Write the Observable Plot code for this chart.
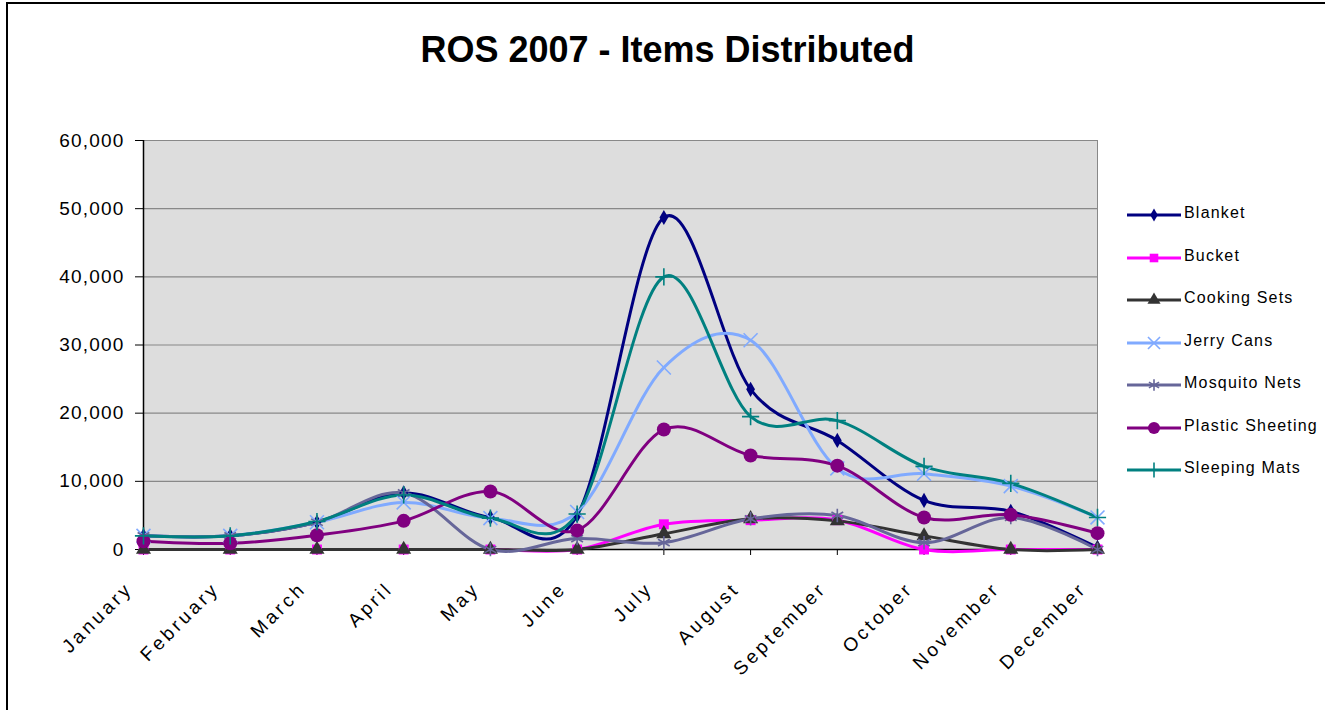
<!DOCTYPE html>
<html><head><meta charset="utf-8">
<script src="https://cdn.jsdelivr.net/npm/d3@7"></script>
<script src="https://cdn.jsdelivr.net/npm/@observablehq/plot@0.6"></script>
<style>
html,body{margin:0;padding:0;background:#fff;width:1325px;height:710px;overflow:hidden;}
#frame{position:absolute;left:6px;top:2px;width:1330px;height:720px;border-left:2px solid #000;border-top:2px solid #000;}
#title{position:absolute;left:0;width:1335px;top:29px;text-align:center;font:bold 36px "Liberation Sans",Arial,sans-serif;color:#000;}
#chart{position:absolute;left:0;top:0;}
#chart svg g[aria-label="y-axis tick label"] text{letter-spacing:1.2px;}
#chart svg g[aria-label="x-axis tick label"] text{letter-spacing:3.3px;}
#legend{position:absolute;left:1126px;top:199px;font:16px "Liberation Sans",Arial,sans-serif;letter-spacing:1.2px;color:#000;}
.li{height:42.5px;display:flex;align-items:flex-start;}
.li svg{margin-top:4px;}
.li span{margin-left:2px;line-height:30px;margin-top:-1px;}
</style></head>
<body>
<div id="frame"></div>
<div id="title">ROS 2007 - Items Distributed</div>
<div id="chart"></div>
<div id="legend"></div>
<script>
const months = ["January","February","March","April","May","June","July","August","September","October","November","December"];
const yTicks = [0,10000,20000,30000,40000,50000,60000];
const seriesNames = ["Blanket","Bucket","Cooking Sets","Jerry Cans","Mosquito Nets","Plastic Sheeting","Sleeping Mats"];
const blanket  = [2000,2000,4000,8300,4700,5000,48700,23500,16000,7200,5600,300];
const bucket   = [0,0,0,0,0,0,3700,4300,4300,0,0,0];
const cooking  = [0,0,0,0,0,0,2300,4500,4200,2000,0,0];
const jerry    = [2000,2000,4000,6900,4600,5500,26700,30700,11900,11100,9300,4700];
const mosquito = [2000,2000,4000,8300,0,1600,1000,4500,5000,1000,4700,0];
const plastic  = [1200,900,2100,4200,8500,2800,17600,13800,12300,4700,5100,2400];
const sleeping = [2000,2000,4100,8000,4600,5200,40000,19500,18900,12200,9700,4700];
const seriesValues = [blanket,bucket,cooking,jerry,mosquito,plastic,sleeping];

const styles = {
  "Blanket":         {color:"#000080", symbol:"diamond", r:4.6, filled:true},
  "Bucket":          {color:"#FF00FF", symbol:"square",  r:5.6, filled:true},
  "Cooking Sets":    {color:"#333333", symbol:"triangle",r:5.6, filled:true},
  "Jerry Cans":      {color:"#80AAFF", symbol:"times",   r:6.4, filled:false},
  "Mosquito Nets":   {color:"#666699", symbol:"asterisk",r:6.4, filled:false},
  "Plastic Sheeting":{color:"#800080", symbol:"circle",  r:7,   filled:true},
  "Sleeping Mats":   {color:"#008080", symbol:"plus",    r:5.6, filled:false}
};

const data = [];
seriesNames.forEach((s,i)=>months.forEach((m,j)=>data.push({series:s, month:m, value:seriesValues[i][j]})));

const marks = [
  Plot.frame({fill:"#DDDDDD", stroke:"#888888"}),
  Plot.ruleY(yTicks.slice(1), {stroke:"#888888", strokeWidth:1.2}),
  Plot.axisY({ticks:yTicks, tickFormat:d3.format(","), tickSize:8, tickPadding:11, fontSize:19, label:null}),
  Plot.axisX({tickSize:6, tickFormat:()=>"", label:null}),
  Plot.axisX({tickRotate:-45, tickSize:0, tickPadding:36, fontSize:19, label:null, dx:-14}),
  Plot.ruleX([months[0]], {stroke:"#000", strokeWidth:1.5}),
  Plot.ruleY([0], {stroke:"#000", strokeWidth:1.5})
];
seriesNames.forEach(s=>{
  const st = styles[s];
  const d = data.filter(e=>e.series===s);
  marks.push(Plot.line(d, {x:"month", y:"value", stroke:st.color, strokeWidth:3, curve:"cardinal", tension:0}));
});
seriesNames.forEach(s=>{
  const st = styles[s];
  const d = data.filter(e=>e.series===s);
  marks.push(Plot.dot(d, st.filled
    ? {x:"month", y:"value", symbol:()=>st.symbol, r:st.r, fill:st.color, stroke:"none"}
    : {x:"month", y:"value", symbol:()=>st.symbol, r:st.r, fill:"none", stroke:st.color, strokeWidth:1.6}));
});

const chart = Plot.plot({
  width:1325, height:710,
  marginLeft:143, marginRight:228, marginTop:140, marginBottom:161,
  x:{type:"point", domain:months, padding:0, round:false},
  y:{domain:[0,60000], ticks:yTicks},
  symbol:{type:"identity"},
  style:{fontFamily:"'Liberation Sans', Arial, sans-serif", color:"#000", background:"transparent", overflow:"visible"},
  marks
});
document.getElementById("chart").appendChild(chart);

// Legend
const legend = d3.select("#legend");
const symMap = {diamond:d3.symbolDiamond, square:d3.symbolSquare, triangle:d3.symbolTriangle, times:d3.symbolTimes, asterisk:d3.symbolAsterisk, circle:d3.symbolCircle, plus:d3.symbolPlus};
seriesNames.forEach(s=>{
  const st = styles[s];
  const row = legend.append("div").attr("class","li");
  const svg = row.append("svg").attr("width",56).attr("height",24);
  svg.append("line").attr("x1",1).attr("x2",55).attr("y1",12).attr("y2",12).attr("stroke",st.color).attr("stroke-width",3);
  const size = Math.PI*st.r*st.r*0.75;
  svg.append("path").attr("transform","translate(28,12)").attr("d", d3.symbol(symMap[st.symbol], size)())
    .attr("fill", st.filled?st.color:"none").attr("stroke", st.filled?"none":st.color).attr("stroke-width",1.6);
  row.append("span").text(s);
});
</script>
</body></html>
